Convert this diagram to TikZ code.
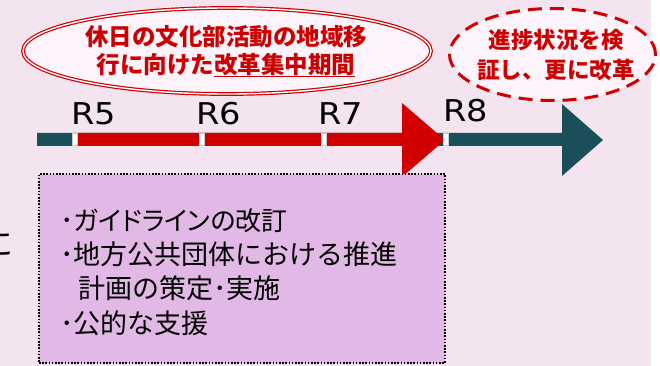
\documentclass[tikz,border=0pt]{standalone}
\usepackage{fontspec}
\setmainfont{DejaVu Sans}
\newfontfamily\jp{Noto Sans CJK JP}
\newfontfamily\jpp[RawFeature=+palt]{Noto Sans CJK JP}
\usetikzlibrary{shapes.geometric}
\definecolor{bgpink}{RGB}{244,228,239}
\definecolor{boxpurple}{RGB}{226,184,230}
\definecolor{arrred}{RGB}{208,0,0}
\definecolor{txtred}{RGB}{204,0,0}
\definecolor{arrteal}{RGB}{26,79,90}
\definecolor{ellfill}{RGB}{252,244,250}
\newcommand\ulred[1]{\setbox0\hbox{#1}\rlap{\color{txtred}\rule[-3.5pt]{\wd0}{1.8pt}}\box0}
\tikzset{
  redtxt/.style={anchor=base, text=txtred, inner sep=0pt, font=\jp\bfseries\fontsize{23.5}{28}\selectfont},
  dashtxt/.style={anchor=base, text=txtred, inner sep=0pt, font=\jp\bfseries\fontsize{22.5}{27}\selectfont},
  boxtxt/.style={anchor=base west, text=black, inner sep=0pt, font=\jp\fontsize{27}{31}\selectfont},
  rlabel/.style={anchor=base west, text=black, inner sep=0pt, font=\fontsize{30}{34}\selectfont},
  tick/.style={fill=white, draw=gray!40, line width=0.3pt}
}
\begin{document}
\begin{tikzpicture}[x=1pt,y=-1pt]
\useasboundingbox (0,0) rectangle (660,366);
\fill[bgpink] (0,0) rectangle (651,366);
% partial text at left edge
\node[anchor=base east, inner sep=0pt, font=\jp\fontsize{32}{36}\selectfont] (cut) at (14,255) {に};
% ellipses
\node[ellipse, draw=arrred, fill=ellfill, line width=1.2pt, double=white, double distance=1.4pt,
      minimum width=408pt, minimum height=86pt] (ell1) at (227,51) {};
\node[redtxt] (t1a) at (226,45.5) {休日の文化部活動の地域移};
\node[redtxt] (t1b) at (226,74) {行に向けた\ulred{改革集中期間}};
\node[ellipse, draw=arrred, fill=ellfill, line width=3pt, dash pattern=on 14pt off 8pt,
      minimum width=206pt, minimum height=92pt] (ell2) at (552.5,54.5) {};
\node[dashtxt] (t2a) at (556,48.5) {進捗状況を検};
\node[dashtxt] (t2b) at (556,78.5) {証し、更に改革};
% timeline arrows
\fill[arrteal] (37,133) -- (562,133) -- (562,104) -- (603,140) -- (562,176) -- (562,146) -- (37,146) -- cycle;
\fill[arrred] (75,133) -- (402,133) -- (402,103) -- (445,140) -- (402,177) -- (402,146) -- (75,146) -- cycle;
\draw[tick] (72,133.5) rectangle (77,145.5);
\draw[tick] (199,133.5) rectangle (204,145.5);
\draw[tick] (321,133.5) rectangle (326,145.5);
\draw[tick] (443,133.5) rectangle (448,145.5);
% year labels
\node[rlabel] (r5) at (71,125) {\scalebox{1.12}[1]{R5}};
\node[rlabel] (r6) at (196,125) {\scalebox{1.12}[1]{R6}};
\node[rlabel] (r7) at (318,125) {\scalebox{1.12}[1]{R7}};
\node[rlabel] (r8) at (443,122) {\scalebox{1.12}[1]{R8}};
% purple box
\node[rectangle, draw=black, fill=boxpurple, line width=1.6pt, dash pattern=on 1.6pt off 1.6pt,
      minimum width=406pt, minimum height=189pt, inner sep=0pt] (box) at (242,268.5) {};
\node[boxtxt] (b1) at (60,230) {･\jpp\fontsize{26}{30}\selectfont ガイドラインの改訂};
\node[boxtxt] (b2) at (60,264.5) {･地方公共団体における推進};
\node[boxtxt] (b3) at (78,298.5) {計画の策定･実施};
\node[boxtxt] (b4) at (60,333) {･公的な支援};
\end{tikzpicture}
\end{document}
